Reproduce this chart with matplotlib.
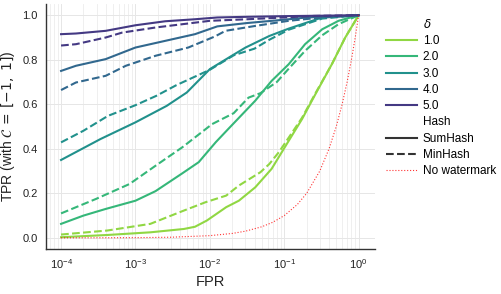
import numpy as np
import matplotlib
matplotlib.use("Agg")
import matplotlib.pyplot as plt
from matplotlib.lines import Line2D

# ---- data (log10 FPR exponents and TPR values) ----
deltas = ["1.0", "2.0", "3.0", "4.0", "5.0"]

sum_exp = {
    "1.0": [-4, -3.38, -2.8, -2.35, -2.2, -2.04, -1.78, -1.61, -1.39, -1.17, -0.98, -0.76, -0.58, -0.36, -0.18, 0],
    "2.0": [-4, -3.7, -3.4, -3.0, -2.73, -2.37, -2.15, -1.92, -1.75, -1.39, -1.17, -0.94, -0.72, -0.49, -0.27, 0],
    "3.0": [-4, -3.47, -3.0, -2.58, -2.31, -2.0, -1.68, -1.52, -1.2, -0.94, -0.49, 0],
    "4.0": [-4, -3.8, -3.4, -3.0, -2.6, -2.2, -1.9, -1.5, -1.0, -0.7, 0],
    "5.0": [-4, -3.8, -3.4, -3.0, -2.6, -2.2, -1.9, -1.5, -1.0, -0.5, 0],
}
sum_tpr = {
    "1.0": [0.003, 0.013, 0.025, 0.04, 0.05, 0.078, 0.138, 0.167, 0.227, 0.31, 0.414, 0.534, 0.646, 0.78, 0.90, 1.0],
    "2.0": [0.063, 0.10, 0.13, 0.167, 0.21, 0.29, 0.34, 0.43, 0.49, 0.616, 0.705, 0.78, 0.87, 0.937, 0.975, 1.0],
    "3.0": [0.35, 0.444, 0.519, 0.593, 0.653, 0.758, 0.823, 0.855, 0.907, 0.94, 0.99, 1.0],
    "4.0": [0.75, 0.773, 0.803, 0.855, 0.885, 0.915, 0.95, 0.965, 0.98, 0.99, 1.0],
    "5.0": [0.915, 0.918, 0.93, 0.955, 0.973, 0.982, 0.99, 0.993, 0.996, 0.998, 1.0],
}
min_exp = {
    "1.0": [-4, -3.38, -2.8, -2.37, -2.06, -1.78, -1.61, -1.32, -1.2, -1.07, -0.9, -0.76, -0.58, -0.36, -0.18, 0],
    "2.0": [-4, -3.53, -3.08, -2.73, -2.37, -1.97, -1.68, -1.48, -1.32, -1.1, -0.94, -0.72, -0.49, -0.27, 0],
    "3.0": [-4, -3.7, -3.37, -3.0, -2.72, -2.45, -2.0, -1.68, -1.4, -1.2, -0.94, -0.49, 0],
    "4.0": [-4, -3.8, -3.4, -3.13, -2.73, -2.29, -1.93, -1.79, -1.39, -0.94, -0.49, 0],
    "5.0": [-4, -3.8, -3.4, -3.18, -2.73, -2.29, -2.0, -1.5, -1.0, -0.6, 0],
}
min_tpr = {
    "1.0": [0.015, 0.033, 0.063, 0.12, 0.16, 0.19, 0.235, 0.295, 0.332, 0.386, 0.47, 0.54, 0.65, 0.78, 0.90, 1.0],
    "2.0": [0.11, 0.175, 0.242, 0.324, 0.407, 0.511, 0.56, 0.63, 0.65, 0.70, 0.76, 0.84, 0.91, 0.96, 1.0],
    "3.0": [0.429, 0.481, 0.548, 0.596, 0.638, 0.686, 0.755, 0.82, 0.85, 0.89, 0.935, 0.985, 1.0],
    "4.0": [0.664, 0.698, 0.728, 0.773, 0.818, 0.855, 0.905, 0.93, 0.952, 0.975, 0.99, 1.0],
    "5.0": [0.864, 0.87, 0.90, 0.922, 0.945, 0.963, 0.975, 0.982, 0.99, 0.997, 1.0],
}
nowm_fpr = [1e-4, 1e-3, 3e-3, 1e-2, 0.02, 0.03, 0.05, 0.07, 0.1, 0.15, 0.2, 0.3, 0.4, 0.5, 0.6, 0.7, 0.8, 0.9, 1.0]
nowm_tpr = [1e-4, 1e-3, 3e-3, 1e-2, 0.02, 0.03, 0.05, 0.07, 0.1, 0.15, 0.2, 0.3, 0.4, 0.5, 0.6, 0.7, 0.8, 0.9, 1.0]

# ---- style ----
plt.rcParams["font.family"] = ["Liberation Sans", "DejaVu Sans"]
cmap = matplotlib.colormaps["viridis"]
cpos = [0.833, 0.667, 0.5, 0.333, 0.167]
colors = {d: cmap(p) for d, p in zip(deltas, cpos)}

fig = plt.figure(figsize=(5.02, 2.94), dpi=100)
ax = fig.add_axes([0.092, 0.153, 0.655, 0.833])

for d in deltas:
    ax.plot(10 ** np.array(sum_exp[d]), sum_tpr[d], color=colors[d], lw=1.5, ls="-")
    ax.plot(10 ** np.array(min_exp[d]), min_tpr[d], color=colors[d], lw=1.5, ls=(0, (3.7, 1.6)))
ax.plot(nowm_fpr, nowm_tpr, color="red", lw=0.8, ls=":", alpha=0.8)

ax.set_xscale("log")
ax.set_xlim(10 ** -4.2, 10 ** 0.22)
ax.set_ylim(-0.05, 1.05)
ax.set_yticks([0.0, 0.2, 0.4, 0.6, 0.8, 1.0])
ax.set_xticks([1e-4, 1e-3, 1e-2, 1e-1, 1e0])
ax.grid(True, which="major", color="#e6e6e6", lw=0.7)
ax.grid(True, which="minor", axis="x", color="#ececec", lw=0.6)
ax.set_axisbelow(True)
for s in ["top", "right"]:
    ax.spines[s].set_visible(False)
for s in ["left", "bottom"]:
    ax.spines[s].set_color("#333333")
    ax.spines[s].set_linewidth(1.0)
ax.tick_params(axis="both", which="both", length=0, labelsize=8, colors="#222222")
ax.tick_params(axis="x", pad=6)
ax.tick_params(axis="y", pad=6)
ax.set_xlabel("FPR", fontsize=10.5, color="#222222", labelpad=3)
ax.set_ylabel(r"TPR (with $\mathcal{C}\,=\,[-1,\ 1]$)", fontsize=10, color="#222222", labelpad=4)

# ---- legend ----
blank = Line2D([], [], color="none")
handles = [blank] + [Line2D([], [], color=colors[d], lw=1.5) for d in deltas]
labels = [r"$\delta$"] + deltas
handles += [blank,
            Line2D([], [], color="#333333", lw=1.5, ls="-"),
            Line2D([], [], color="#333333", lw=1.5, ls=(0, (3.7, 1.6))),
            Line2D([], [], color="red", lw=0.8, ls=":", alpha=0.8)]
labels += ["Hash", "SumHash", "MinHash", "No watermark"]
leg = fig.legend(handles, labels, loc="upper left", bbox_to_anchor=(0.760, 0.955),
                 frameon=False, fontsize=8.5, handlelength=2.6, handletextpad=0.5,
                 labelspacing=0.36, borderaxespad=0)

fig.savefig("out.png", dpi=100)
